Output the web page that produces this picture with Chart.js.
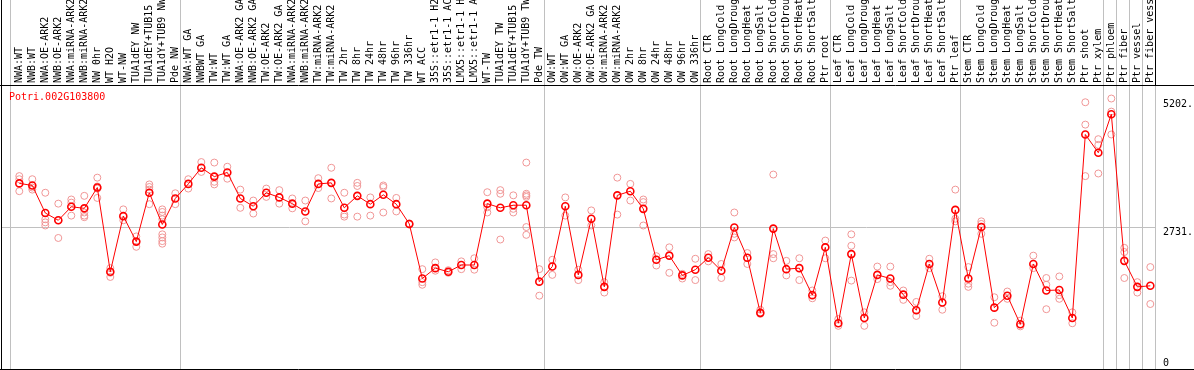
<!DOCTYPE html>
<html>
<head>
<meta charset="utf-8">
<title>Potri.002G103800</title>
<script src="https://cdn.jsdelivr.net/npm/chart.js@4.4.1/dist/chart.umd.min.js"></script>
<style>
  html, body { margin: 0; padding: 0; background: #fff; }
  canvas { display: block; }
</style>
</head>
<body>
<canvas id="exprChart" width="1194" height="370"></canvas>
<script>
var geneId = "Potri.002G103800";

var categories = [
  "NWA:WT", "NWB:WT", "NWA:OE-ARK2", "NWB:OE-ARK2", "NWA:miRNA-ARK2", "NWB:miRNA-ARK2",
  "NW 0hr", "WT H2O", "WT-NW", "TUA1dEY NW", "TUA1dEY+TUB15 NW", "TUA1dY+TUB9 NW", "Pde NW",
  "NWA:WT GA", "NWBWT GA", "TW:WT", "TW:WT GA", "NWA:OE-ARK2 GA", "NWB:OE-ARK2 GA",
  "TW:OE-ARK2", "TW:OE-ARK2 GA", "NWA:miRNA-ARK2", "NWB:miRNA-ARK2", "TW:miRNA-ARK2", "TW:miRNA-ARK2",
  "TW 2hr", "TW 8hr", "TW 24hr", "TW 48hr", "TW 96hr", "TW 336hr", "WT ACC",
  "35S::etr1-1 H2O", "35S::etr1-1 ACC", "LMX5::etr1-1 H2O", "LMX5::etr1-1 ACC",
  "WT-TW", "TUA1dEY TW", "TUA1dEY+TUB15 TW", "TUA1dY+TUB9 TW", "Pde TW",
  "OW:WT", "OW:WT GA", "OW:OE-ARK2", "OW:OE-ARK2 GA", "OW:miRNA-ARK2", "OW:miRNA-ARK2",
  "OW 2hr", "OW 8hr", "OW 24hr", "OW 48hr", "OW 96hr", "OW 336hr",
  "Root CTR", "Root LongCold", "Root LongDrought", "Root LongHeat", "Root LongSalt",
  "Root ShortCold", "Root ShortDrought", "Root ShortHeat", "Root ShortSalt", "Ptr root",
  "Leaf CTR", "Leaf LongCold", "Leaf LongDrought", "Leaf LongHeat", "Leaf LongSalt",
  "Leaf ShortCold", "Leaf ShortDrought", "Leaf ShortHeat", "Leaf ShortSalt", "Ptr leaf",
  "Stem CTR", "Stem LongCold", "Stem LongDrought", "Stem LongHeat", "Stem LongSalt",
  "Stem ShortCold", "Stem ShortDrought", "Stem ShortHeat", "Stem ShortSalt", "Ptr shoot", "Ptr xylem",
  "Ptr phloem", "Ptr fiber", "Ptr vessel", "Ptr fiber vessel"
];

// mean expression per sample
var means = [
  3570, 3530, 3000, 2860, 3120, 3090, 3490, 1870, 2940, 2450, 3390, 2780, 3280,
  3560, 3870, 3700, 3780, 3280, 3130, 3390, 3300, 3180, 3030, 3560, 3580, 3100, 3330,
  3170, 3350, 3170, 2790, 1740, 1940, 1870, 2000, 2000, 3180, 3100, 3150, 3150, 1680,
  1970, 3130, 1810, 2890, 1580, 3340, 3420, 3080, 2100, 2180, 1800, 1910,
  2140, 1890, 2720, 2140, 1080, 2700, 1920, 1940, 1420, 2340,
  880, 2210, 980, 1810, 1740, 1430, 1130, 2020, 1280, 3060,
  1740, 2730, 1180, 1410, 860, 2020, 1510, 1520, 980, 4510, 4160,
  4900, 2080, 1580, 1600
];

// individual replicates per sample
var replicates = [
  [3710, 3650, 3420], [3650, 3490, 3450], [3390, 2880, 2820, 2760], [3180, 2860, 2520],
  [3260, 3200, 2950], [3330, 3010, 2950, 2920], [3680, 3510, 3470, 3290], [1940, 1850, 1770],
  [3070, 2860], [2550, 2350], [3550, 3500, 3450, 3170],
  [3070, 3020, 2950, 2880, 2590, 2530, 2460, 2410], [3380, 3170],
  [3650, 3470], [3980, 3790], [3970, 3600, 3550], [3890, 3660], [3450, 3100], [3240, 2990],
  [3470, 3310], [3440, 3180], [3280, 3090], [3240, 2840], [3670, 3480], [3870, 3280],
  [3390, 2970, 2930], [3580, 3520, 2930], [3300, 2950], [3530, 3500, 3010], [3290, 3030],
  [2800, 2780], [1920, 1670, 1620], [2050, 1890], [1900, 1850], [2070, 1920], [2130, 1910],
  [3400, 3110, 3010], [3440, 3370, 2490], [3340, 3080, 3010],
  [3970, 3370, 3340, 3310, 2730, 2580], [1920, 1410],
  [2100, 1810], [3300, 2950], [1910, 1710], [3050, 2760], [1670, 1470], [3680, 2970],
  [3560, 3240], [3260, 3210, 2760], [2170, 1990], [2340, 1850], [1830, 1740], [2120, 1710],
  [2210, 2070], [2020, 1750], [3010, 2600, 2530], [2230, 2020], [1140, 1060],
  [3740, 2210, 2130], [2080, 1800], [2130, 1710], [1510, 1360], [2470, 2130],
  [960, 830], [2590, 2370, 1700], [1090, 830], [1970, 1730], [1970, 1670, 1600],
  [1510, 1330], [1290, 1020], [2120, 1940], [1400, 1140], [3450, 2890, 2840],
  [1960, 1640, 1580], [2840, 2790, 2600], [1380, 890], [1490, 1350], [930, 820],
  [2180, 1940], [1750, 1620, 1150], [1780, 1420, 1350], [1090, 880], [5130, 4700, 3710],
  [4420, 4310, 3760],
  [5202, 4950, 4510], [2330, 2250, 1750], [1670, 1470], [1960, 1250]
];

// last sample index of each block (a divider follows it)
var groupEnds = [12, 40, 52, 62, 72, 83, 84, 85, 86, 87];
var yTicks = [0, 2731, 5202];
var yMax = 5462;

var monoFont = "'DejaVu Sans Mono', monospace";
var gridGray = "#c0c0c0";

var dividers = [-0.715].concat(groupEnds.map(function (i) { return i + 0.385; }));

var meanPoints = means.map(function (v, i) { return { x: i, y: v }; });
var repPoints = [];
replicates.forEach(function (reps, i) {
  reps.forEach(function (v) { repPoints.push({ x: i, y: v }); });
});

var frame = {
  id: "frame",
  afterDraw: function (chart) {
    var ctx = chart.ctx, a = chart.chartArea;
    ctx.save();
    ctx.strokeStyle = "#000";
    ctx.lineWidth = 1;
    ctx.beginPath();
    ctx.moveTo(a.left + 0.5, 0); ctx.lineTo(a.left + 0.5, chart.height);
    ctx.moveTo(0, a.top + 0.5); ctx.lineTo(chart.width, a.top + 0.5);
    ctx.moveTo(0, a.bottom + 0.5); ctx.lineTo(chart.width, a.bottom + 0.5);
    ctx.moveTo(a.right + 0.5, 0); ctx.lineTo(a.right + 0.5, a.top);
    ctx.stroke();
    ctx.fillStyle = "#ff0000";
    ctx.font = "10px " + monoFont;
    ctx.textBaseline = "top";
    ctx.fillText(geneId, a.left + 8, a.top + 7);
    ctx.restore();
  }
};

new Chart(document.getElementById("exprChart"), {
  type: "line",
  data: {
    datasets: [
      {
        label: "mean",
        data: meanPoints,
        borderColor: "#ff0000",
        borderWidth: 1,
        pointRadius: 3.5,
        pointBorderWidth: 1.6,
        pointBorderColor: "#ff0000",
        pointBackgroundColor: "rgba(0,0,0,0)",
        tension: 0,
        order: 1
      },
      {
        type: "scatter",
        label: "replicates",
        data: repPoints,
        showLine: false,
        pointRadius: 3.5,
        pointBorderWidth: 1,
        pointBorderColor: "rgb(240,150,150)",
        pointBackgroundColor: "rgba(0,0,0,0)",
        order: 2
      }
    ]
  },
  options: {
    responsive: false,
    animation: false,
    devicePixelRatio: 1,
    layout: { autoPadding: false, padding: { left: 1, right: 0, top: 0, bottom: 1 } },
    plugins: { legend: { display: false }, tooltip: { enabled: false } },
    scales: {
      x: {
        type: "linear",
        position: "top",
        min: -1.408,
        max: 87.36,
        afterBuildTicks: function (scale) {
          var t = categories.map(function (c, i) { return { value: i }; });
          dividers.forEach(function (d) { t.push({ value: d }); });
          t.sort(function (p, q) { return p.value - q.value; });
          scale.ticks = t;
        },
        afterFit: function (scale) {
          scale.height = 85;
          scale.paddingLeft = 0;
          scale.paddingRight = 0;
        },
        ticks: {
          autoSkip: false,
          minRotation: 90,
          maxRotation: 90,
          padding: -83,
          color: "#000",
          font: { family: monoFont, size: 10, lineHeight: 0.01 },
          callback: function (v) { return Number.isInteger(v) ? categories[v] : ""; }
        },
        grid: {
          drawTicks: true,
          tickLength: 85,
          lineWidth: 1,
          color: function (ctx) {
            return ctx.tick && !Number.isInteger(ctx.tick.value) ? gridGray : "rgba(0,0,0,0)";
          }
        },
        border: { display: false }
      },
      y: {
        type: "linear",
        position: "right",
        min: 0,
        max: yMax,
        afterBuildTicks: function (scale) {
          scale.ticks = yTicks.map(function (v) { return { value: v }; });
        },
        afterFit: function (scale) {
          scale.width = 39;
          scale.paddingTop = 0;
          scale.paddingBottom = 0;
        },
        ticks: {
          padding: 8,
          color: "#000",
          font: { family: monoFont, size: 10, lineHeight: 1.1 },
          callback: function (v) { return v === 0 ? ["0", ""] : ["", v + "."]; }
        },
        grid: {
          drawTicks: false,
          color: function (ctx) {
            return ctx.tick && ctx.tick.value === 2731 ? gridGray : "rgba(0,0,0,0)";
          }
        },
        border: { display: false }
      }
    }
  },
  plugins: [frame]
});
</script>
</body>
</html>
